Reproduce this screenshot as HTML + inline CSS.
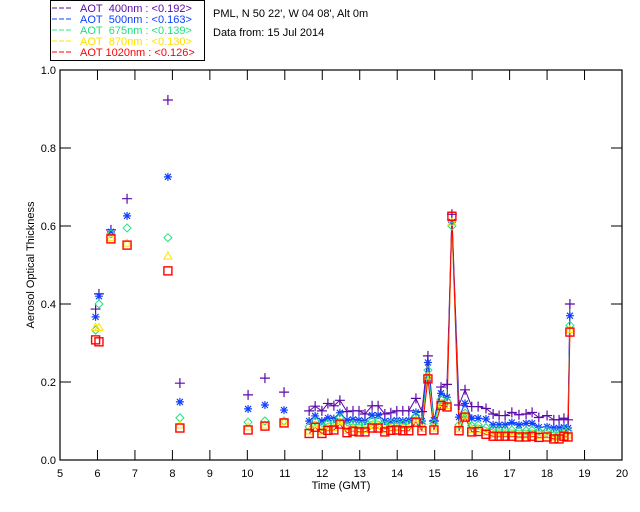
<!DOCTYPE html>
<html><head><meta charset="utf-8">
<style>
html,body{margin:0;padding:0;background:#fff;}
svg{display:block;font-family:"Liberation Sans",sans-serif;}
</style></head>
<body>
<svg id="chart" width="640" height="512" viewBox="0 0 640 512">
  <g font-size="11">
    <rect x="50.5" y="0.5" width="154" height="60" fill="none" stroke="#000" stroke-width="1"/>
    <g><line x1="52" y1="8" x2="73" y2="8" stroke="#5b0aa8" stroke-dasharray="5,2"/><text x="80" y="12" fill="#5b0aa8">AOT&#160; 400nm : &lt;0.192&gt;</text></g>
    <g><line x1="52" y1="19" x2="73" y2="19" stroke="#1040ff" stroke-dasharray="5,2"/><text x="80" y="23" fill="#1040ff">AOT&#160; 500nm : &lt;0.163&gt;</text></g>
    <g><line x1="52" y1="30" x2="73" y2="30" stroke="#20f080" stroke-dasharray="5,2"/><text x="80" y="34" fill="#20e080">AOT&#160; 675nm : &lt;0.139&gt;</text></g>
    <g><line x1="52" y1="41" x2="73" y2="41" stroke="#ffe000" stroke-dasharray="5,2"/><text x="80" y="45" fill="#ffe000">AOT&#160; 870nm : &lt;0.130&gt;</text></g>
    <g><line x1="52" y1="52" x2="73" y2="52" stroke="#ff0000" stroke-dasharray="5,2"/><text x="80" y="56" fill="#ff0000">AOT 1020nm : &lt;0.126&gt;</text></g>
  </g>
  <text x="213" y="17" font-size="11">PML, N 50 22', W 04 08', Alt 0m</text>
  <text x="213" y="36" font-size="11">Data from: 15 Jul 2014</text>
  <rect x="60" y="70" width="562" height="390" fill="none" stroke="#000" stroke-width="1.2"/>
  <g id="axes"></g>
  <g id="lines"></g>
  <g id="marks"></g>
  <text x="0" y="0" font-size="11" transform="translate(34,265) rotate(-90)" text-anchor="middle">Aerosol Optical Thickness</text>
  <text x="341" y="489" font-size="11" text-anchor="middle">Time (GMT)</text>
</svg>
<script>
const times=[5.95,6.04,6.36,6.79,7.88,8.2,10.02,10.47,10.98,
11.65,11.81,11.99,12.15,12.31,12.47,12.66,12.82,12.98,13.14,13.33,13.49,13.67,13.83,13.99,14.15,14.31,14.50,14.66,14.82,14.98,15.17,15.33,15.46,15.65,15.81,15.99,16.16,16.37,16.56,16.72,16.88,17.06,17.25,17.44,17.60,17.78,18.00,18.18,18.32,18.45,18.56,18.61];
const denseStart=9;
const aot400=[0.387,0.426,0.59,0.67,0.923,0.197,0.167,0.21,0.174,
0.126,0.138,0.126,0.145,0.139,0.153,0.124,0.126,0.126,0.118,0.139,0.139,0.118,0.121,0.126,0.126,0.126,0.158,0.124,0.267,0.10,0.187,0.194,0.63,0.141,0.18,0.137,0.137,0.132,0.118,0.114,0.114,0.122,0.116,0.118,0.122,0.109,0.114,0.103,0.103,0.107,0.103,0.40];
const aot500=[0.367,0.42,0.585,0.626,0.726,0.149,0.131,0.141,0.128,
0.10,0.113,0.10,0.108,0.106,0.121,0.102,0.104,0.102,0.10,0.115,0.115,0.10,0.10,0.102,0.10,0.102,0.122,0.10,0.25,0.102,0.171,0.161,0.61,0.11,0.145,0.107,0.107,0.105,0.09,0.09,0.09,0.096,0.09,0.094,0.094,0.084,0.085,0.082,0.082,0.084,0.082,0.37];
const aot675=[0.333,0.40,0.58,0.595,0.57,0.108,0.097,0.10,0.10,
0.085,0.10,0.086,0.094,0.095,0.108,0.088,0.092,0.09,0.09,0.10,0.10,0.09,0.093,0.094,0.092,0.092,0.113,0.092,0.23,0.094,0.155,0.15,0.60,0.09,0.12,0.088,0.09,0.083,0.077,0.077,0.077,0.077,0.075,0.075,0.077,0.074,0.075,0.07,0.07,0.076,0.074,0.345];
const aot870=[0.34,0.34,0.57,0.556,0.523,0.09,0.085,0.09,0.098,
0.074,0.09,0.074,0.082,0.083,0.098,0.076,0.08,0.078,0.078,0.088,0.088,0.078,0.082,0.083,0.081,0.081,0.102,0.081,0.215,0.082,0.145,0.14,0.61,0.08,0.115,0.078,0.079,0.071,0.066,0.066,0.066,0.066,0.064,0.064,0.066,0.063,0.064,0.059,0.059,0.066,0.064,0.335];
const aot1020=[0.308,0.303,0.567,0.551,0.485,0.082,0.077,0.087,0.095,
0.068,0.084,0.068,0.076,0.077,0.092,0.07,0.074,0.072,0.072,0.082,0.082,0.072,0.076,0.077,0.075,0.075,0.097,0.075,0.208,0.077,0.14,0.136,0.625,0.075,0.11,0.072,0.073,0.066,0.061,0.061,0.061,0.061,0.059,0.059,0.061,0.058,0.059,0.054,0.054,0.061,0.059,0.328];
const xTicks=[5,6,7,8,9,10,11,12,13,14,15,16,17,18,19,20];
const yTicks=[0.0,0.2,0.4,0.6,0.8,1.0];

const NS='http://www.w3.org/2000/svg';
const X=t=>60+(t-5)*(562/15);
const Y=v=>460-v*390;
function mk(tag,attrs,parent){const e=document.createElementNS(NS,tag);for(const k in attrs)e.setAttribute(k,attrs[k]);parent.appendChild(e);return e;}
const axes=document.getElementById('axes');
xTicks.forEach(t=>{
  const x=X(t);
  const g=mk('g',{},axes);
  
  
  mk('line',{x1:x,y1:460,x2:x,y2:450,stroke:'#000'},g);
  mk('line',{x1:x,y1:70,x2:x,y2:80,stroke:'#000'},g);
  const tx=mk('text',{x:x,y:477,'font-size':11,'text-anchor':'middle'},g);
  tx.textContent=String(t);
});
yTicks.forEach(v=>{
  const y=Y(v);
  const g=mk('g',{},axes);
  
  
  mk('line',{x1:60,y1:y,x2:71,y2:y,stroke:'#000'},g);
  mk('line',{x1:622,y1:y,x2:611,y2:y,stroke:'#000'},g);
  const tx=mk('text',{x:56,y:y+4,'font-size':11,'text-anchor':'end'},g);
  tx.textContent=v.toFixed(1);
});
const series=[
 {vals:aot400,color:'#5b0aa8',m:'plus',name:'400'},
 {vals:aot500,color:'#1040ff',m:'star',name:'500'},
 {vals:aot675,color:'#20e080',m:'diamond',name:'675'},
 {vals:aot870,color:'#ffe000',m:'triangle',name:'870'},
 {vals:aot1020,color:'#ff0000',m:'square',name:'1020'}];
const lines=document.getElementById('lines'),marks=document.getElementById('marks');
series.forEach(s=>{
  let d='';
  for(let i=denseStart;i<times.length;i++){d+=(i===denseStart?'M':'L')+X(times[i]).toFixed(1)+','+Y(s.vals[i]).toFixed(1);}
  const p=mk('path',{d:d,fill:'none',stroke:s.color,'stroke-width':1},lines);
  
  
});
series.forEach(s=>{
  times.forEach((t,i)=>{
    const x=X(t),y=Y(s.vals[i]);
    const g=mk('g',{stroke:s.color,fill:'none','stroke-width':1.2},marks);
    
    
    if(s.m==='plus'){mk('path',{d:`M${x-5},${y}H${x+5}M${x},${y-5}V${y+5}`},g);}
    else if(s.m==='star'){mk('path',{d:`M${x-4},${y}H${x+4}M${x},${y-4}V${y+4}M${x-3},${y-3}L${x+3},${y+3}M${x-3},${y+3}L${x+3},${y-3}`},g);}
    else if(s.m==='diamond'){mk('path',{d:`M${x},${y-4}L${x+4},${y}L${x},${y+4}L${x-4},${y}Z`,'stroke-width':1},g);}
    else if(s.m==='triangle'){mk('path',{d:`M${x},${y-4}L${x+4},${y+3}L${x-4},${y+3}Z`,'stroke-width':1},g);}
    else {mk('rect',{x:x-4,y:y-4,width:8,height:8,'stroke-width':1.4},g);}
  });
});
</script>
</body></html>
